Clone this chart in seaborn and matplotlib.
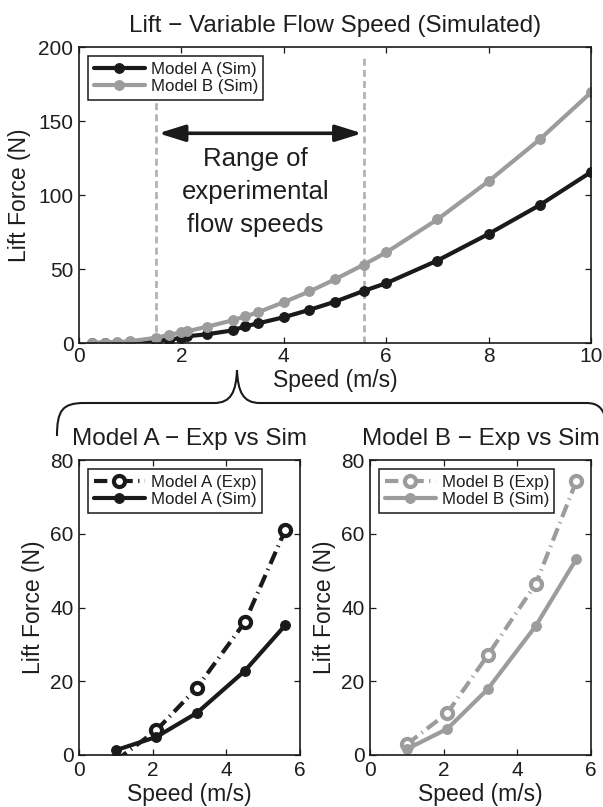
import matplotlib
matplotlib.use("Agg")
import matplotlib.pyplot as plt
from matplotlib.path import Path
from matplotlib.patches import PathPatch
import pandas as pd
import seaborn as sns

# ---- simulated lift over the full speed sweep ----
speed_sim = [0.25, 0.5, 0.75, 1.0, 1.5, 1.75, 2.0, 2.1, 2.5, 3.0, 3.25, 3.5,
             4.0, 4.5, 5.0, 5.56, 6.0, 7.0, 8.0, 9.0, 10.0]
lift_a_sim = [0.0, 0.1, 0.3, 0.6, 1.5, 2.2, 3.4, 4.5, 5.9, 8.5, 11.3, 13.3,
              17.4, 22.4, 27.9, 35.2, 40.4, 55.7, 73.7, 93.2, 115.5]
lift_b_sim = [0.1, 0.3, 0.6, 1.2, 3.5, 5.5, 7.2, 7.8, 11.0, 15.3, 18.0, 20.8,
              27.6, 34.8, 43.0, 52.9, 61.2, 83.5, 109.3, 137.6, 169.3]

# ---- experimental flow speeds and the matching simulated values ----
speed_exp = [1.0, 2.1, 3.2, 4.5, 5.6]
lift_a_exp = [-1.5, 6.7, 18.2, 36.0, 61.0]
lift_a_sim_exp = [1.3, 4.9, 11.4, 22.8, 35.2]
lift_b_exp = [2.9, 11.4, 27.1, 46.4, 74.2]
lift_b_sim_exp = [1.6, 7.1, 17.9, 35.0, 53.1]

# experimental speed range marked on the overview plot
range_bounds = [1.5, 5.56]
range_top = 195
arrow_level = 141.7

labels_top = ["Model A (Sim)", "Model B (Sim)"]
labels_a = ["Model A (Exp)", "Model A (Sim)"]
labels_b = ["Model B (Exp)", "Model B (Sim)"]

DARK = "#1a1a1a"
GREY = "#9c9c9c"
RANGE_GREY = "#b3b3b3"
TEXT = "#1e1e1e"

sns.set_theme(style="ticks", rc={
    "xtick.direction": "in", "ytick.direction": "in",
    "xtick.top": True, "ytick.right": True,
    "xtick.major.size": 4, "ytick.major.size": 4,
    "xtick.major.width": 0.9, "ytick.major.width": 0.9,
    "xtick.major.pad": 3, "ytick.major.pad": 4,
    "axes.linewidth": 1.2, "axes.edgecolor": DARK,
    "xtick.color": DARK, "ytick.color": DARK,
    "text.color": TEXT, "axes.labelcolor": TEXT,
    "xtick.labelcolor": TEXT, "ytick.labelcolor": TEXT,
    "xtick.labelsize": 15, "ytick.labelsize": 15,
    "axes.labelsize": 16.5,
})
plt.rcParams["font.family"] = ["Liberation Sans", "DejaVu Sans"]

W, H = 603, 807
fig = plt.figure(figsize=(W / 100, H / 100), dpi=100)


def box(left, top, right, bottom):
    return [left / W, 1 - bottom / H, (right - left) / W, (bottom - top) / H]


ax_top = fig.add_axes(box(79, 47, 591, 343))
ax_a = fig.add_axes(box(79, 460, 300, 755))
ax_b = fig.add_axes(box(370, 460, 591, 755))


def sim_line(ax, x, y, color, label):
    sns.lineplot(x=x, y=y, ax=ax, color=color, lw=3, marker="o",
                 markersize=7, markeredgewidth=0.8, markeredgecolor=color,
                 markerfacecolor=color, label=label, legend=False,
                 errorbar=None, sort=False)


def exp_line(ax, x, y, color, label):
    sns.lineplot(x=x, y=y, ax=ax, color=color, lw=3,
                 linestyle=(0, (3.2, 1.3, 0.3, 1.3)), marker="o",
                 markersize=8, markeredgewidth=3, markeredgecolor=color,
                 markerfacecolor="white", label=label, legend=False,
                 errorbar=None, sort=False)


def add_legend(ax):
    h, l = ax.get_legend_handles_labels()
    leg = ax.legend(h, l, loc="upper left", fontsize=12.2, frameon=True,
                    fancybox=False, framealpha=1, edgecolor=DARK,
                    borderaxespad=0.55, borderpad=0.32, labelspacing=0.15,
                    handlelength=3.0, handletextpad=0.35)
    leg.get_frame().set_linewidth(1.1)
    leg.set_zorder(10)


# ---- overview plot ----
for xb in range_bounds:
    ax_top.plot([xb, xb], [0, range_top], color=RANGE_GREY, lw=2,
                linestyle=(0, (2.5, 1.5)), zorder=1, label="_nolegend_")
sim_line(ax_top, speed_sim, lift_a_sim, DARK, labels_top[0])
sim_line(ax_top, speed_sim, lift_b_sim, GREY, labels_top[1])
ax_top.annotate("", xy=(1.55, arrow_level), xytext=(5.53, arrow_level),
                arrowprops=dict(arrowstyle="<|-|>,head_length=0.8,head_width=0.25",
                                lw=2.6, color=DARK, mutation_scale=20,
                                shrinkA=0, shrinkB=0))
ax_top.text(3.45, 102, "Range of\nexperimental\nflow speeds", ha="center",
            va="center", fontsize=18.5, linespacing=1.45, color=TEXT)
ax_top.set_xlim(0, 10)
ax_top.set_ylim(0, 200)
ax_top.set_xticks([0, 2, 4, 6, 8, 10])
ax_top.set_yticks([0, 50, 100, 150, 200])
ax_top.set_xlabel("Speed (m/s)", labelpad=2)
ax_top.set_ylabel("Lift Force (N)", labelpad=5)
ax_top.set_title("Lift \u2212 Variable Flow Speed (Simulated)", fontsize=17.5,
                 pad=11, color=TEXT)
add_legend(ax_top)

# ---- per-model comparison plots ----
exp_line(ax_a, speed_exp, lift_a_exp, DARK, labels_a[0])
sim_line(ax_a, speed_exp, lift_a_sim_exp, DARK, labels_a[1])
exp_line(ax_b, speed_exp, lift_b_exp, GREY, labels_b[0])
sim_line(ax_b, speed_exp, lift_b_sim_exp, GREY, labels_b[1])

for ax, title in [(ax_a, "Model A \u2212 Exp vs Sim"),
                  (ax_b, "Model B \u2212 Exp vs Sim")]:
    ax.set_xlim(0, 6)
    ax.set_ylim(0, 80)
    ax.set_xticks([0, 2, 4, 6])
    ax.set_yticks([0, 20, 40, 60, 80])
    ax.tick_params(axis="x", pad=4.5)
    ax.set_xlabel("Speed (m/s)", labelpad=2)
    ax.set_ylabel("Lift Force (N)", labelpad=4)
    ax.set_title(title, fontsize=17.5, pad=11, color=TEXT)
    add_legend(ax)

# ---- curly brace linking the overview to the detail plots ----
def px(x, y):
    return (x / W, 1 - y / H)


verts = [px(57, 436), px(57, 411), px(62, 403), px(84, 403),
         px(214, 403),
         px(231, 403), px(236, 392), px(237, 370),
         px(238, 392), px(243, 403), px(260, 403),
         px(586, 403),
         px(598, 403), px(603, 408), px(606, 420)]
codes = [Path.MOVETO, Path.CURVE4, Path.CURVE4, Path.CURVE4,
         Path.LINETO,
         Path.CURVE4, Path.CURVE4, Path.CURVE4,
         Path.CURVE4, Path.CURVE4, Path.CURVE4,
         Path.LINETO,
         Path.CURVE4, Path.CURVE4, Path.CURVE4]
fig.patches.append(PathPatch(Path(verts, codes), transform=fig.transFigure,
                             fill=False, edgecolor=DARK, lw=1.5))

fig.savefig("out.png", dpi=100)
